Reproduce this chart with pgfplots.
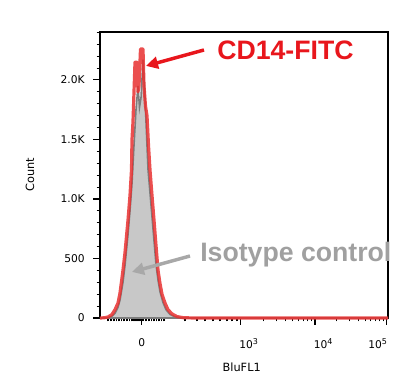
\documentclass[border=0pt]{standalone}
\usepackage{fontspec}
\setmainfont{DejaVu Sans}
\newfontfamily\arialf{Liberation Sans}
\usepackage{pgfplots}
\pgfplotsset{compat=1.18}
\usetikzlibrary{arrows.meta}
\definecolor{cdred}{RGB}{232,22,28}
\definecolor{curvered}{RGB}{232,48,48}
\definecolor{fillgrey}{RGB}{200,200,200}
\definecolor{edgegrey}{RGB}{125,125,125}
\definecolor{txtgrey}{RGB}{160,160,160}
\definecolor{arrgrey}{RGB}{168,168,168}
\pgfplotstableread{
x y
0 0
4 2
8 8
12 30
15 70
18 126
20 210
23 403
25 550
28 823
30 1030
31.5 1244
32 1500
33 1650
34 1900
35 2150
37 2150
38 1900
39 1950
40.5 2260
43 2260
44 1950
45.5 1780
47 1700
48.5 1450
50 1244
52 1030
54 823
56 610
58 403
60 290
62 200
65 126
68 70
72 35
77 12
83 3
90 1
100 0
288 0
}\cdtable
\pgfplotstableread{
x y
0 0
8 2
12 15
15 40
18 90
20 150
23 300
25 440
28 700
30 900
32 1130
34 1450
36 1750
38 1950
39.5 1770
41 1850
43 2170
44.5 1950
46 1650
48 1250
50 1050
52 850
54 650
56 450
58 320
60 220
63 130
66 70
70 30
75 10
82 2
90 0
288 0
}\isotable
\begin{document}
\begin{tikzpicture}
\begin{axis}[
  scale only axis, width=216pt, height=214.5pt,
  xmin=0, xmax=288, ymin=0, ymax=2403,
  axis line style={line width=0.8pt},
  tick align=outside, tick pos=left,
  xtick={41.7,140.7,215,286.7},
  xticklabels={},
  minor xtick={8,11,14,16.5,19,21.5,24,27,29.5,32,34,35,36,37,38,39,40,43,46,49,51.5,54,56.5,59,61.5,64,
    85,97,105,113,120,127,132,137,
    163.1,176.2,185.4,192.6,198.5,203.5,207.8,211.6,
    236.6,249.2,258.2,265.1,270.8,275.6,279.7,283.4},
  extra x ticks={41.7,149,223.5,278},
  extra x tick labels={0,10\textsuperscript{3},10\textsuperscript{4},10\textsuperscript{5}},
  extra x tick style={major tick length=0pt, tick style={draw=none}, xticklabel style={yshift=-12pt}},
  ytick={0,500,1000,1500,2000},
  yticklabels={0,500,1.0K,1.5K,2.0K},
  yticklabel style={xshift=-3pt},
  minor ytick={100,200,300,400,600,700,800,900,1100,1200,1300,1400,1600,1700,1800,1900,2100,2200,2300,2400},
  major tick length=5pt, minor tick length=2.5pt,
  every tick/.style={black, line width=0.8pt},
  ticklabel style={font=\fontsize{8}{9}\selectfont},
  xlabel={BluFL1}, ylabel={Count},
  xlabel style={at={(axis description cs:0.492,-0.1713)}, anchor=center, font=\fontsize{8.5}{10}\selectfont},
  ylabel style={at={(axis description cs:-0.243,0.5)}, anchor=center, font=\fontsize{8.5}{10}\selectfont},
  clip=false,
]
\addplot[draw=edgegrey, line width=1.2pt, fill=fillgrey] table[x=x,y=y] {\isotable} \closedcycle;
\addplot[draw=curvered, line width=2.4pt, opacity=0.85, line join=round] table[x=x,y=y] {\cdtable};
\draw[cdred, line width=2.6pt, -{Triangle[length=9pt,width=9pt]}] (axis cs:104,2252) -- (axis cs:46,2118);
\draw[arrgrey, line width=2.6pt, -{Triangle[length=9pt,width=9pt]}] (axis cs:90,521) -- (axis cs:32,387);
\node[anchor=west, inner sep=0pt, text=cdred, font=\arialf\bfseries\fontsize{20}{22}\selectfont] at (axis cs:117,2252) {CD14-FITC};
\node[anchor=west, inner sep=0pt, text=txtgrey, font=\arialf\bfseries\fontsize{20}{22}\selectfont] at (axis cs:100,529) {Isotype control};
\end{axis}
\pgfresetboundingbox
\useasboundingbox (-75pt,-54pt) rectangle (237pt,238.5pt);
\end{tikzpicture}
\end{document}
